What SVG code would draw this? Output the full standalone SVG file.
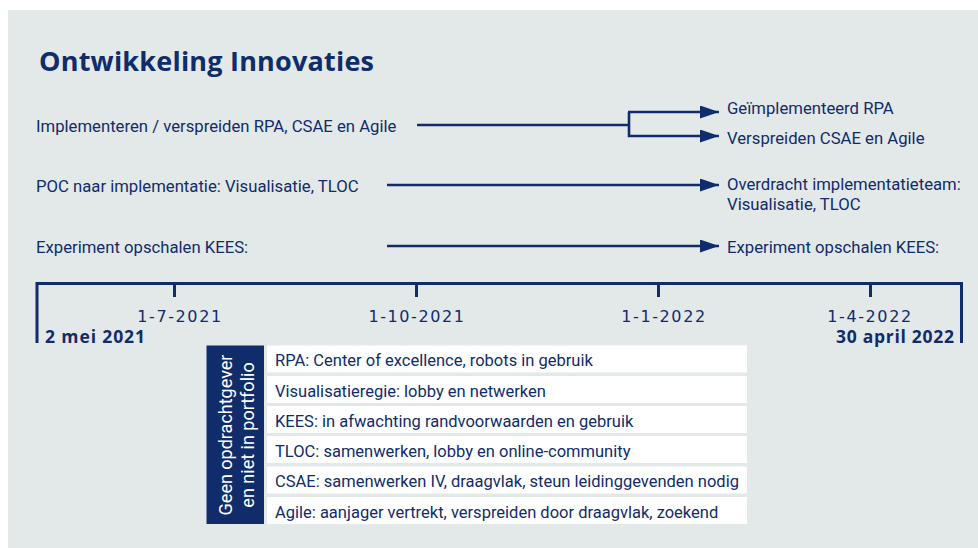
<svg xmlns="http://www.w3.org/2000/svg" width="978" height="548" viewBox="0 0 978 548">
<defs>
<style>
.t{font-family:Roboto,"Liberation Sans",sans-serif;font-size:16.7px;fill:#102c6b}
.tl{font-family:"DejaVu Sans","Liberation Sans",sans-serif;font-size:16px;fill:#102c6b;letter-spacing:1.6px;text-anchor:middle}
.b{font-family:"Open Sans","Liberation Sans",sans-serif;font-weight:700;fill:#102c6b}
.ln{stroke:#102c6b;stroke-width:2.6;fill:none}
.ax{stroke:#102c6b;stroke-width:3;fill:none}
.row{fill:#ffffff}
.rt{font-family:Roboto,"Liberation Sans",sans-serif;font-size:16.5px;fill:#102c6b}
</style>
<marker id="ah" viewBox="0 0 19 13" refX="19" refY="6.5" markerUnits="userSpaceOnUse" markerWidth="19" markerHeight="13" orient="auto">
<path d="M0,0 L19,6.5 L0,13 z" fill="#102c6b"/>
</marker>
</defs>
<rect x="8" y="10" width="970" height="538" fill="#e3e8e8"/>
<text id="title" class="b" x="39" y="71" font-size="27" textLength="335">Ontwikkeling Innovaties</text>

<g id="row1">
<text class="t" x="36" y="132">Implementeren / verspreiden RPA, CSAE en Agile</text>
</g>
<g id="out1a"><text class="t" x="727" y="114">Geïmplementeerd RPA</text></g>
<g id="out1b"><text class="t" x="727" y="144">Verspreiden CSAE en Agile</text></g>
<g id="row2">
<text class="t" x="36" y="192">POC naar implementatie: Visualisatie, TLOC</text>
</g>
<g id="out2"><text class="t" x="727" y="190">Overdracht implementatieteam:</text><text class="t" x="727" y="210">Visualisatie, TLOC</text></g>
<g id="row3">
<text class="t" x="36" y="253">Experiment opschalen KEES:</text>
</g>
<g id="out3"><text class="t" x="727" y="253">Experiment opschalen KEES:</text></g>

<g id="connectors">
<path class="ln" d="M417,125 H629"/>
<path class="ln" d="M629,112 V137"/>
<path class="ln" d="M628,112 H719" marker-end="url(#ah)"/>
<path class="ln" d="M628,136 H719" marker-end="url(#ah)"/>
<path class="ln" d="M387,185 H719" marker-end="url(#ah)"/>
<path class="ln" d="M387,246 H719" marker-end="url(#ah)"/>
</g>

<g id="timeline">
<path class="ax" d="M37,343 V283.5 H961.5 V343"/>
<path class="ax" d="M174.5,283.5 V297 M416.5,283.5 V297 M658.5,283.5 V297 M870.5,283.5 V297"/>
<text class="tl" x="180" y="322">1-7-2021</text>
<text class="tl" x="417" y="322">1-10-2021</text>
<text class="tl" x="664" y="322">1-1-2022</text>
<text class="tl" x="870" y="322">1-4-2022</text>
<text class="b" x="45" y="343" font-size="17.5" textLength="100">2 mei 2021</text>
<text class="b" x="836" y="343" font-size="17.5" textLength="118">30 april 2022</text>
</g>

<g id="table">
<rect x="206.5" y="345.5" width="57.5" height="178.5" fill="#102c6b"/>
<text font-family="Roboto,'Liberation Sans',sans-serif" font-size="18" fill="#ffffff" text-anchor="middle" transform="translate(232,435) rotate(-90)">Geen opdrachtgever</text>
<text font-family="Roboto,'Liberation Sans',sans-serif" font-size="18" fill="#ffffff" text-anchor="middle" transform="translate(254,435) rotate(-90)">en niet in portfolio</text>
<rect class="row" x="267" y="345.5" width="480" height="27"/>
<rect class="row" x="267" y="376" width="480" height="27"/>
<rect class="row" x="267" y="406" width="480" height="27"/>
<rect class="row" x="267" y="436" width="480" height="27"/>
<rect class="row" x="267" y="466.5" width="480" height="27"/>
<rect class="row" x="267" y="497" width="480" height="27"/>
<text class="rt" x="275" y="366">RPA: Center of excellence, robots in gebruik</text>
<text class="rt" x="275" y="396.5">Visualisatieregie: lobby en netwerken</text>
<text class="rt" x="275" y="426.5">KEES: in afwachting randvoorwaarden en gebruik</text>
<text class="rt" x="275" y="456.5">TLOC: samenwerken, lobby en online-community</text>
<text class="rt" x="275" y="487">CSAE: samenwerken IV, draagvlak, steun leidinggevenden nodig</text>
<text class="rt" x="275" y="517.5">Agile: aanjager vertrekt, verspreiden door draagvlak, zoekend</text>
</g>
</svg>
